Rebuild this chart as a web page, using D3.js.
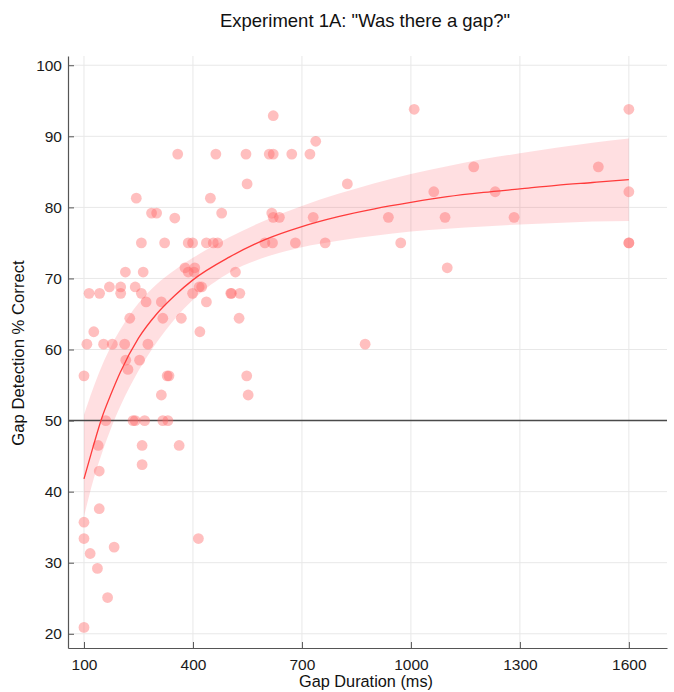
<!DOCTYPE html>
<html>
<head>
<meta charset="utf-8">
<script src="https://cdn.jsdelivr.net/npm/d3@7"></script>
<style>
  html, body { margin: 0; padding: 0; background: #fff; }
  svg { display: block; font-family: "Liberation Sans", Arial, Helvetica, sans-serif; }
</style>
</head>
<body>
<div id="chart"></div>
<script>
// Individual participant scores: gap duration (ms) and % correct
const gapMs = [
  100, 100, 100, 100, 108, 114, 117, 127, 137, 139, 142, 142, 143, 154, 160, 165, 170, 178, 183,
  201, 201, 212, 214, 215, 221, 226, 235, 241, 241, 244, 253, 258, 258, 260, 260, 263, 267, 271,
  276, 286, 300, 313, 313, 317, 317, 322, 329, 334, 331, 350, 358, 362, 368, 378, 387, 387, 399,
  399, 403, 405, 415, 417, 424, 419, 437, 437, 448, 456, 468, 463, 479, 504, 506, 517, 527, 529,
  546, 549, 548, 552, 598, 610, 617, 619, 621, 621, 621, 638, 672, 682, 722, 731, 738, 764, 825,
  874, 938, 972, 1009, 1063, 1094, 1100, 1173, 1232, 1284, 1516, 1600, 1600, 1600, 1600
];
const pctCorrect = [
  20.9, 33.4, 35.7, 56.3, 60.75, 67.9, 31.3, 62.5, 29.2, 46.5, 42.9, 37.6, 67.9, 60.75, 50, 25.1, 68.8, 60.75, 32.2,
  68.8, 67.9, 60.75, 70.9, 58.5, 57.2, 64.4, 50, 50, 68.8, 81.3, 58.5, 67.9, 75, 46.5, 43.8, 70.9, 50, 66.7,
  60.75, 79.2, 79.2, 66.7, 53.6, 64.4, 50, 75, 56.3, 56.3, 50, 78.5, 87.5, 46.5, 64.4, 71.5, 70.9, 75, 75,
  67.9, 70.9, 71.5, 33.4, 68.8, 68.8, 62.5, 75, 66.7, 81.3, 75, 75, 87.5, 79.2, 67.9, 67.9, 70.9, 64.4, 67.9,
  87.5, 83.3, 56.3, 53.6, 75, 87.5, 79.2, 75, 92.9, 87.5, 78.6, 78.6, 87.5, 75, 87.5, 78.6, 89.3, 75, 83.3,
  60.75, 78.6, 75, 93.8, 82.2, 78.6, 71.5, 85.7, 82.2, 78.6, 85.7, 93.8, 82.2, 75, 75
];

// Fitted curve with its confidence band
const fitMs    = [100, 125, 150, 175, 200, 250, 300, 350, 400, 500, 600, 700, 800, 900, 1000, 1100, 1200, 1300, 1400, 1500, 1600];
const fitMean  = [41.8, 46.3, 50.5, 53.8, 56.8, 61.6, 65.0, 67.6, 69.8, 73.0, 75.5, 77.3, 78.7, 79.8, 80.7, 81.5, 82.1, 82.6, 83.1, 83.5, 83.9];
const fitUpper = [50.8, 54.5, 57.8, 60.5, 62.8, 66.5, 69.2, 71.2, 72.9, 75.8, 78.2, 80.2, 81.9, 83.4, 84.7, 85.8, 86.8, 87.6, 88.4, 89.1, 89.7];
const fitLower = [36.5, 41.5, 45.5, 49.0, 52.0, 57.0, 61.0, 64.3, 67.0, 70.8, 73.0, 74.4, 75.3, 76.0, 76.6, 77.0, 77.3, 77.6, 77.8, 78.0, 78.1];

const xTicks = [100, 400, 700, 1000, 1300, 1600];
const yTicks = [20, 30, 40, 50, 60, 70, 80, 90, 100];
const chanceLevel = 50;

const W = 674, H = 692;
const margin = { top: 56, right: 7, bottom: 44, left: 68 };
const innerW = W - margin.left - margin.right;
const innerH = H - margin.top - margin.bottom;

const svg = d3.select("#chart").append("svg").attr("width", W).attr("height", H);
const g = svg.append("g").attr("transform", `translate(${margin.left},${margin.top})`);

const x = d3.scaleLinear().domain([56, 1705]).range([0, innerW]);
const y = d3.scaleLinear().domain([18, 101.3]).range([innerH, 0]);

// Grid
g.append("g").selectAll("line").data(xTicks).join("line")
  .attr("x1", d => x(d)).attr("x2", d => x(d)).attr("y1", 0).attr("y2", innerH)
  .attr("stroke", "#e8e8e8").attr("stroke-width", 1);
g.append("g").selectAll("line").data(yTicks).join("line")
  .attr("x1", 0).attr("x2", innerW).attr("y1", d => y(d)).attr("y2", d => y(d))
  .attr("stroke", "#e8e8e8").attr("stroke-width", 1);

// Confidence band
const band = fitMs.map((m, i) => ({ m, lo: fitLower[i], hi: fitUpper[i], mean: fitMean[i] }));
g.append("path").datum(band)
  .attr("d", d3.area().x(d => x(d.m)).y0(d => y(d.lo)).y1(d => y(d.hi)).curve(d3.curveMonotoneX))
  .attr("fill", "#ff1a2a").attr("fill-opacity", 0.14);

// Chance line
g.append("line")
  .attr("x1", 0).attr("x2", innerW).attr("y1", y(chanceLevel)).attr("y2", y(chanceLevel))
  .attr("stroke", "#4a4a4a").attr("stroke-width", 1.5);

// Participant points
const pts = gapMs.map((m, i) => ({ m, p: pctCorrect[i] }));
g.append("g").selectAll("circle").data(pts).join("circle")
  .attr("cx", d => x(d.m)).attr("cy", d => y(d.p)).attr("r", 5.4)
  .attr("fill", "#ff6666").attr("fill-opacity", 0.42);

// Fitted curve
g.append("path").datum(band)
  .attr("d", d3.line().x(d => x(d.m)).y(d => y(d.mean)).curve(d3.curveMonotoneX))
  .attr("fill", "none").attr("stroke", "#ff3b3b").attr("stroke-width", 1.3);

// Axes (ticks pointing inward)
const xAxis = g.append("g").attr("transform", `translate(0,${innerH})`)
  .call(d3.axisBottom(x).tickValues(xTicks).tickFormat(d3.format("d"))
    .tickSizeInner(-6).tickSizeOuter(0).tickPadding(11));
const yAxis = g.append("g")
  .call(d3.axisLeft(y).tickValues(yTicks).tickFormat(d3.format("d"))
    .tickSizeInner(-6).tickSizeOuter(0).tickPadding(6));
[xAxis, yAxis].forEach(a => {
  a.select(".domain").attr("stroke", "#555").attr("stroke-width", 1.2);
  a.selectAll(".tick line").attr("stroke", "#555");
  a.selectAll(".tick text").attr("fill", "#1a1a1a").style("font-size", "15.5px");
});

// Titles
svg.append("text").attr("x", 365).attr("y", 27)
  .attr("text-anchor", "middle").style("font-size", "18.5px").attr("fill", "#111")
  .text('Experiment 1A: "Was there a gap?"');
svg.append("text").attr("x", 366).attr("y", 687)
  .attr("text-anchor", "middle").style("font-size", "16.3px").attr("fill", "#111")
  .text("Gap Duration (ms)");
svg.append("text")
  .attr("transform", `translate(24,353) rotate(-90)`)
  .attr("text-anchor", "middle").style("font-size", "16.7px").attr("fill", "#111")
  .text("Gap Detection % Correct");
</script>
</body>
</html>
